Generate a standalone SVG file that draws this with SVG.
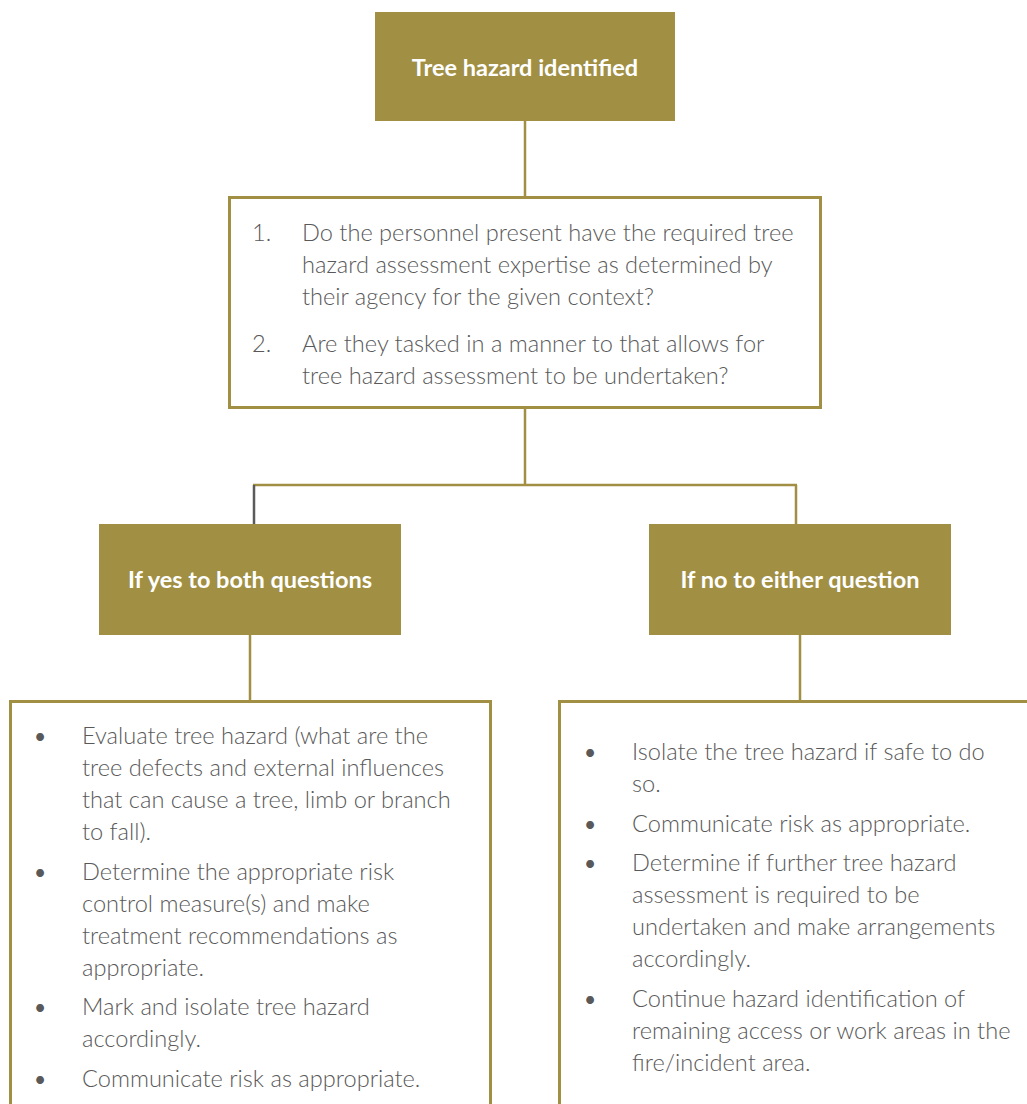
<svg xmlns="http://www.w3.org/2000/svg" width="1027" height="1104" viewBox="0 0 1027 1104">
<style>
.fill{fill:#A18F43;}
.box{fill:#ffffff;stroke:#A18F43;stroke-width:3;}
.title{font-family:Lato,"Open Sans","Liberation Sans",sans-serif;font-weight:bold;font-size:23.5px;fill:#ffffff;text-anchor:middle;}
.t{font-family:Lato,"Open Sans","Liberation Sans",sans-serif;font-weight:300;font-size:23.6px;fill:#595959;}
.b{font-family:Lato,"Open Sans","Liberation Sans",sans-serif;font-size:21px;fill:#595959;text-anchor:middle;}
.c{stroke:#A18F43;stroke-width:2.5;fill:none;}
.cg{stroke:#5a5a5a;stroke-width:2.5;fill:none;}
</style>
<rect width="1027" height="1104" fill="#ffffff"/>
<g id="connectors">
<line class="c" x1="525" y1="121" x2="525" y2="197"/>
<line class="c" x1="525" y1="408" x2="525" y2="485"/>
<line class="c" x1="253" y1="485" x2="797" y2="485"/>
<line class="cg" x1="254" y1="485" x2="254" y2="524"/>
<line class="c" x1="796" y1="485" x2="796" y2="524"/>
<line class="c" x1="250" y1="635" x2="250" y2="701"/>
<line class="c" x1="800" y1="635" x2="800" y2="701"/>
</g>
<g id="node-start">
<rect class="fill" x="375" y="12" width="300" height="109"/>
<text class="title" x="525" y="76">Tree hazard identified</text>
</g>
<g id="node-questions">
<rect class="box" x="229.5" y="197.5" width="591" height="210"/>
<text class="t" x="252" y="241">1.</text>
<text class="t" x="302" y="241">Do the personnel present have the required tree</text>
<text class="t" x="302" y="273">hazard assessment expertise as determined by</text>
<text class="t" x="302" y="305">their agency for the given context?</text>
<text class="t" x="252" y="352">2.</text>
<text class="t" x="302" y="352">Are they tasked in a manner to that allows for</text>
<text class="t" x="302" y="384">tree hazard assessment to be undertaken?</text>
</g>
<g id="node-yes">
<rect class="fill" x="99" y="524" width="302" height="111"/>
<text class="title" x="250" y="588">If yes to both questions</text>
</g>
<g id="node-no">
<rect class="fill" x="649" y="524" width="302" height="111"/>
<text class="title" x="800" y="588">If no to either question</text>
</g>
<g id="node-yes-actions">
<rect class="box" x="10.5" y="701.5" width="480" height="500"/>
<text class="b" x="40" y="744">•</text>
<text class="t" x="82" y="744">Evaluate tree hazard (what are the</text>
<text class="t" x="82" y="776">tree defects and external influences</text>
<text class="t" x="82" y="808">that can cause a tree, limb or branch</text>
<text class="t" x="82" y="840">to fall).</text>
<text class="b" x="40" y="880">•</text>
<text class="t" x="82" y="880">Determine the appropriate risk</text>
<text class="t" x="82" y="912">control measure(s) and make</text>
<text class="t" x="82" y="944">treatment recommendations as</text>
<text class="t" x="82" y="976">appropriate.</text>
<text class="b" x="40" y="1015">•</text>
<text class="t" x="82" y="1015">Mark and isolate tree hazard</text>
<text class="t" x="82" y="1047">accordingly.</text>
<text class="b" x="40" y="1087">•</text>
<text class="t" x="82" y="1087">Communicate risk as appropriate.</text>
</g>
<g id="node-no-actions">
<rect class="box" x="559.5" y="701.5" width="500" height="500"/>
<text class="b" x="590" y="760">•</text>
<text class="t" x="632" y="760">Isolate the tree hazard if safe to do</text>
<text class="t" x="632" y="792">so.</text>
<text class="b" x="590" y="832">•</text>
<text class="t" x="632" y="832">Communicate risk as appropriate.</text>
<text class="b" x="590" y="871">•</text>
<text class="t" x="632" y="871">Determine if further tree hazard</text>
<text class="t" x="632" y="903">assessment is required to be</text>
<text class="t" x="632" y="935">undertaken and make arrangements</text>
<text class="t" x="632" y="967">accordingly.</text>
<text class="b" x="590" y="1007">•</text>
<text class="t" x="632" y="1007">Continue hazard identification of</text>
<text class="t" x="632" y="1039">remaining access or work areas in the</text>
<text class="t" x="632" y="1071">fire/incident area.</text>
</g>
</svg>
